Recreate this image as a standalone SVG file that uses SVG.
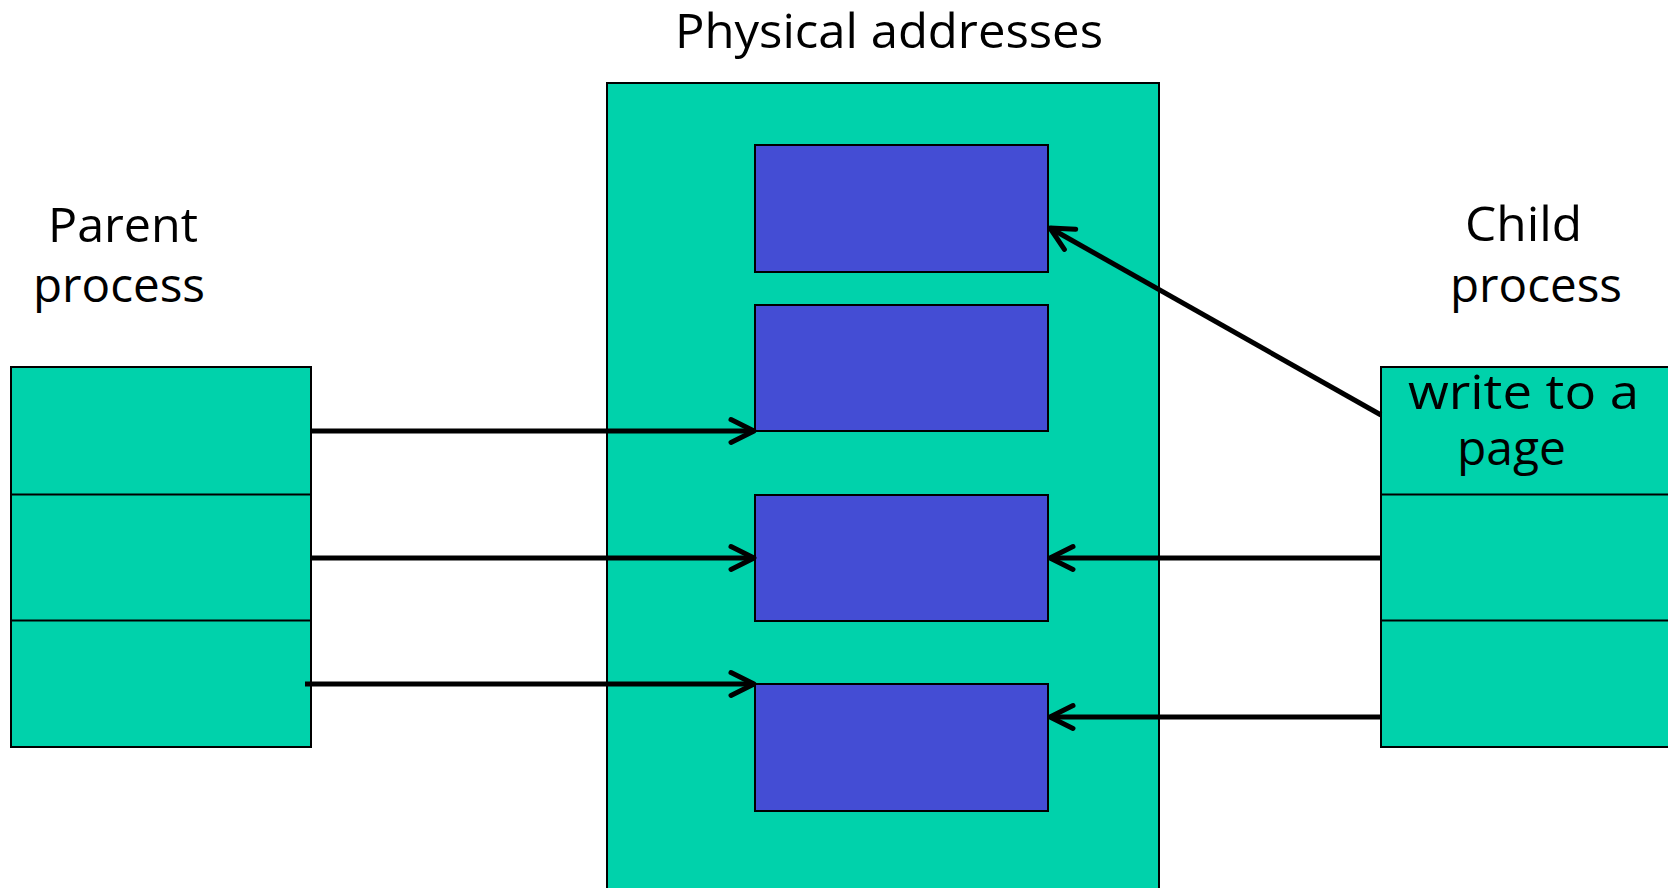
<svg xmlns="http://www.w3.org/2000/svg" width="1668" height="888" viewBox="0 0 1668 888">
  <style>
    .label { font-family: "Open Sans", "Noto Sans", "Liberation Sans", sans-serif; font-size: 48px; fill: #000; }
    .mem { fill: #00D2AB; stroke: #000; stroke-width: 2; }
    .page { fill: #444DD4; stroke: #000; stroke-width: 2; }
    .row { stroke: #000; stroke-width: 2; }
    .link { stroke: #000; stroke-width: 5; fill: none; marker-end: url(#chev); }
  </style>
  <defs>
    <marker id="chev" markerUnits="userSpaceOnUse" markerWidth="40" markerHeight="40" viewBox="-30 -20 40 40" refX="0" refY="0" orient="auto">
      <path d="M -23 -11.5 L 0 0 L -23 11.5" fill="none" stroke="#000" stroke-width="5" stroke-linecap="round" stroke-linejoin="round"/>
    </marker>
  </defs>
  <rect width="1668" height="888" fill="#fff"/>

  <!-- physical memory column -->
  <g id="physical">
    <rect class="mem" x="607" y="83" width="552" height="810"/>
    <text class="label" x="675" y="48" textLength="428" lengthAdjust="spacingAndGlyphs">Physical addresses</text>
  </g>
  <g id="frame1"><rect class="page" x="755" y="145" width="293" height="127"/></g>
  <g id="frame2"><rect class="page" x="755" y="305" width="293" height="126"/></g>
  <g id="frame3"><rect class="page" x="755" y="495" width="293" height="126"/></g>
  <g id="frame4"><rect class="page" x="755" y="684" width="293" height="127"/></g>

  <!-- parent page table -->
  <g id="parent">
    <text class="label" x="48" y="242" textLength="150" lengthAdjust="spacingAndGlyphs">Parent</text>
    <text class="label" x="33" y="302" textLength="172" lengthAdjust="spacingAndGlyphs">process</text>
    <rect class="mem" x="11" y="367" width="300" height="380"/>
    <line class="row" x1="11" y1="494.5" x2="311" y2="494.5"/>
    <line class="row" x1="11" y1="620.5" x2="311" y2="620.5"/>
  </g>

  <!-- child page table -->
  <g id="child">
    <text class="label" x="1465" y="241" textLength="117" lengthAdjust="spacingAndGlyphs">Child</text>
    <text class="label" x="1450" y="302" textLength="172" lengthAdjust="spacingAndGlyphs">process</text>
    <rect class="mem" x="1381" y="367" width="300" height="380"/>
    <line class="row" x1="1381" y1="494.5" x2="1668" y2="494.5"/>
    <line class="row" x1="1381" y1="620.5" x2="1668" y2="620.5"/>
    <text class="label" x="1408" y="409" textLength="231" lengthAdjust="spacingAndGlyphs">write to a</text>
    <text class="label" x="1457" y="465" textLength="109" lengthAdjust="spacingAndGlyphs">page</text>
  </g>

  <!-- mappings -->
  <g id="connectors">
    <line class="link" x1="312" y1="431" x2="754" y2="431"/>
    <line class="link" x1="312" y1="558" x2="754" y2="558"/>
    <line class="link" x1="305" y1="684" x2="754" y2="684"/>
    <line class="link" x1="1381" y1="558" x2="1050" y2="558"/>
    <line class="link" x1="1381" y1="717" x2="1050" y2="717"/>
    <line class="link" x1="1381" y1="415" x2="1050" y2="228"/>
  </g>
</svg>
